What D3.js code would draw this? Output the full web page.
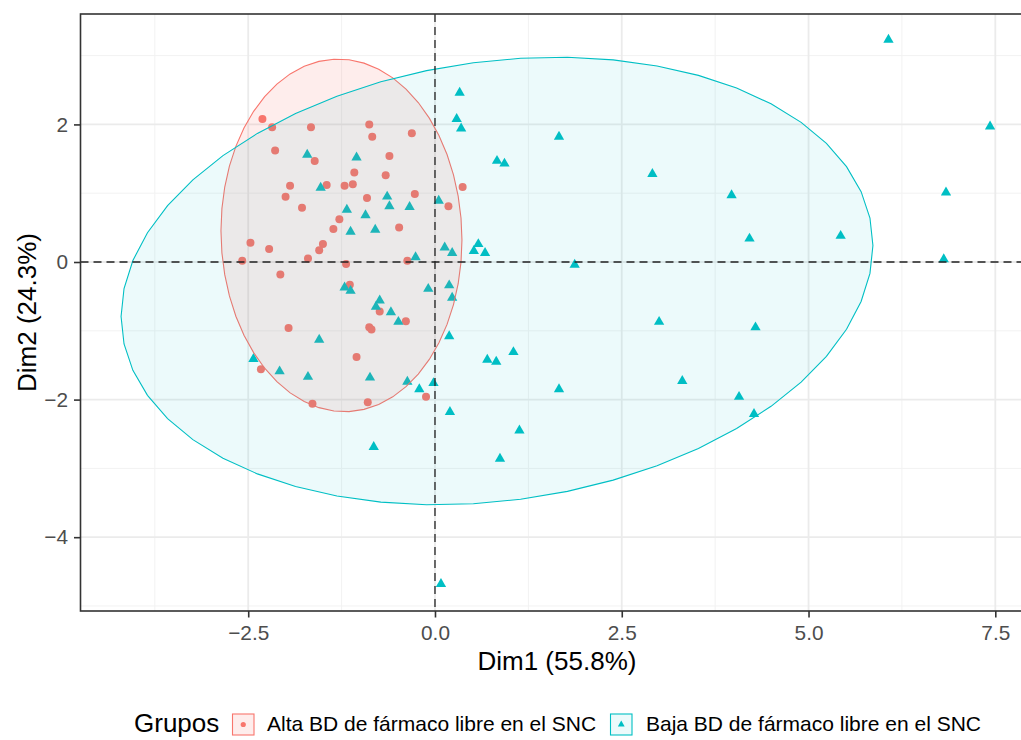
<!DOCTYPE html>
<html>
<head>
<meta charset="utf-8">
<script src="https://cdn.jsdelivr.net/npm/d3@7"></script>
<style>
  body { margin: 0; background: #fff; }
  svg { display: block; font-family: "Liberation Sans", Arial, sans-serif; }
</style>
</head>
<body>
<svg id="chart" width="1021" height="740"></svg>
<script>
// PCA individuals (Dim1, Dim2) by group
const groupNames = ["Alta BD de fármaco libre en el SNC", "Baja BD de fármaco libre en el SNC"];
const groupColors = ["#F8766D", "#00BFC4"];
const groupFillOpacity = [0.13, 0.075];

const altaDim1 = [-2.31, -2.18, -1.66, -0.88, -0.84, -0.31, -2.14, -1.61, -0.61, -1.08,
                  -0.66, -1.94, -1.45, -1.21, -1.10, 0.37, -2.00, -0.91, -0.27, -1.78,
                  0.18, -1.28, -1.36, -0.48, -2.47, -2.22, -1.50, -1.55, -2.58, -1.70,
                  -1.19, -0.37, -2.07, -1.14, -0.74, -0.39, -1.96, -0.88, -0.85, -1.05,
                  -2.33, -1.64, -0.90, -0.12];
const altaDim2 = [2.08, 1.96, 1.96, 2.00, 1.82, 1.87, 1.62, 1.47, 1.54, 1.30,
                  1.26, 1.11, 1.12, 1.11, 1.13, 1.09, 0.95, 0.93, 0.99, 0.79,
                  0.81, 0.62, 0.48, 0.50, 0.28, 0.19, 0.26, 0.17, 0.02, 0.05,
                  -0.03, 0.02, -0.18, -0.33, -0.72, -0.86, -0.96, -0.95, -0.98, -1.38,
                  -1.56, -2.06, -2.04, -1.96];

const bajaDim1 = [-1.71, -1.05, -1.53, -0.64, -0.61, -0.34, 0.05, -1.18, -0.93, -1.13,
                  -0.80, 0.13, 0.23, 0.58, 0.52, 0.67, -0.26, 0.33, 0.29, 0.35,
                  1.66, 0.83, 0.93, 1.87, -1.21, -1.13, -0.74, -0.79, -0.59, -0.49,
                  -0.09, 0.19, 0.23, 0.19, -1.55, -2.43, -2.08, -1.70, -0.87, -0.37,
                  -0.21, -0.02, 0.20, -0.82, 0.08, 0.70, 0.82, 1.05, 1.66, 1.13,
                  0.87, 6.07, 7.43, 2.91, 3.97, 6.84, 4.21, 5.43, 6.81, 3.00,
                  4.29, 3.31, 4.07, 4.27];
const bajaDim2 = [1.56, 1.52, 1.08, 0.95, 0.81, 0.80, 0.89, 0.76, 0.68, 0.44,
                  0.47, 0.21, 0.13, 0.26, 0.16, 0.13, 0.07, 2.46, 2.08, 1.94,
                  1.82, 1.47, 1.43, -0.04, -0.37, -0.42, -0.56, -0.65, -0.73, -0.87,
                  -0.39, -0.34, -0.52, -1.08, -1.13, -1.41, -1.59, -1.67, -1.68, -1.74,
                  -1.85, -1.76, -2.18, -2.69, -4.68, -1.42, -1.45, -1.31, -1.85, -2.45,
                  -2.86, 3.23, 1.97, 1.28, 0.97, 1.01, 0.34, 0.38, 0.04, -0.87,
                  -0.95, -1.73, -1.96, -2.21];

// 95% concentration ellipses per group: centre, half-extent on each axis, correlation
const ellipseCentre = [[-1.252, 0.387], [0.830, -0.276]];
const ellipseSpread = [[1.613, 2.563], [5.032, 3.253]];
const ellipseRho = [-0.0265, 0.1588];

const xTicks = [-2.5, 0, 2.5, 5, 7.5];
const yTicks = [-4, -2, 0, 2];
const xMinor = [-3.75, -1.25, 1.25, 3.75, 6.25];
const yMinor = [-5, -3, -1, 1, 3];
const xTitle = "Dim1 (55.8%)";
const yTitle = "Dim2 (24.3%)";
const legendTitle = "Grupos";

const svg = d3.select("#chart");
const panel = { left: 80.5, right: 1033.4, top: 14, bottom: 611 };

const x = d3.scaleLinear().domain([-4.745, 8.01]).range([panel.left, panel.right]);
const y = d3.scaleLinear().domain([-5.073, 3.605]).range([panel.bottom, panel.top]);

svg.append("rect").attr("width", 1021).attr("height", 740).attr("fill", "#fff");

const plot = svg.append("g");
plot.append("clipPath").attr("id", "clip")
  .append("rect").attr("x", panel.left).attr("y", panel.top)
  .attr("width", panel.right - panel.left).attr("height", panel.bottom - panel.top);

const inner = plot.append("g").attr("clip-path", "url(#clip)");

// grid
inner.selectAll(".xminor").data(xMinor).join("line")
  .attr("x1", d => x(d)).attr("x2", d => x(d)).attr("y1", panel.top).attr("y2", panel.bottom)
  .attr("stroke", "#F2F2F2").attr("stroke-width", 1);
inner.selectAll(".yminor").data(yMinor).join("line")
  .attr("y1", d => y(d)).attr("y2", d => y(d)).attr("x1", panel.left).attr("x2", panel.right)
  .attr("stroke", "#F2F2F2").attr("stroke-width", 1);
inner.selectAll(".xmajor").data(xTicks).join("line")
  .attr("x1", d => x(d)).attr("x2", d => x(d)).attr("y1", panel.top).attr("y2", panel.bottom)
  .attr("stroke", "#EBEBEB").attr("stroke-width", 1.8);
inner.selectAll(".ymajor").data(yTicks).join("line")
  .attr("y1", d => y(d)).attr("y2", d => y(d)).attr("x1", panel.left).attr("x2", panel.right)
  .attr("stroke", "#EBEBEB").attr("stroke-width", 1.8);

// points
const alta = altaDim1.map((d, i) => [d, altaDim2[i]]);
const baja = bajaDim1.map((d, i) => [d, bajaDim2[i]]);

inner.append("g").selectAll("circle").data(alta).join("circle")
  .attr("cx", d => x(d[0])).attr("cy", d => y(d[1])).attr("r", 4)
  .attr("fill", groupColors[0]);

const tri = d3.symbol().type(d3.symbolTriangle).size(46);
inner.append("g").selectAll("path").data(baja).join("path")
  .attr("d", tri)
  .attr("transform", d => `translate(${x(d[0])},${y(d[1])})`)
  .attr("fill", groupColors[1]);

// ellipses
function ellipsePoints(g) {
  const [cx, cy] = ellipseCentre[g];
  const [sx, sy] = ellipseSpread[g];
  const r = ellipseRho[g];
  const n = 51;
  return d3.range(n).map(k => {
    const t = 2 * Math.PI * k / (n - 1);
    return [cx + sx * Math.cos(t), cy + sy * (r * Math.cos(t) + Math.sqrt(1 - r * r) * Math.sin(t))];
  });
}
const line = d3.line().x(d => x(d[0])).y(d => y(d[1]));
[0, 1].forEach(g => {
  inner.append("path")
    .attr("d", line(ellipsePoints(g)) + "Z")
    .attr("fill", groupColors[g]).attr("fill-opacity", groupFillOpacity[g])
    .attr("stroke", groupColors[g]).attr("stroke-width", 1.1);
});

// reference lines
inner.append("line").attr("x1", x(0)).attr("x2", x(0)).attr("y1", panel.top).attr("y2", panel.bottom)
  .attr("stroke", "#222").attr("stroke-width", 1.3).attr("stroke-dasharray", "8,5");
inner.append("line").attr("y1", y(0)).attr("y2", y(0)).attr("x1", panel.left).attr("x2", panel.right)
  .attr("stroke", "#222").attr("stroke-width", 1.3).attr("stroke-dasharray", "8,5");

// panel border
plot.append("rect").attr("x", panel.left).attr("y", panel.top)
  .attr("width", panel.right - panel.left).attr("height", panel.bottom - panel.top)
  .attr("fill", "none").attr("stroke", "#333").attr("stroke-width", 1.6);

// axes
const xAxis = svg.append("g").attr("transform", `translate(0,${panel.bottom})`)
  .call(d3.axisBottom(x).tickValues(xTicks).tickFormat(d3.format(".1f")).tickSize(6.5).tickPadding(7.7));
const yAxis = svg.append("g").attr("transform", `translate(${panel.left},0)`)
  .call(d3.axisLeft(y).tickValues(yTicks).tickFormat(d3.format("d")).tickSize(6.5).tickPadding(6));
[xAxis, yAxis].forEach(a => {
  a.select(".domain").remove();
  a.selectAll(".tick line").attr("stroke", "#333").attr("stroke-width", 1.6);
  a.selectAll(".tick text").attr("fill", "#4D4D4D").style("font-size", "20.8px")
    .style("font-family", "'Liberation Sans', Arial, sans-serif");
});

svg.append("text").attr("x", (panel.left + panel.right) / 2).attr("y", 670)
  .attr("text-anchor", "middle").style("font-size", "26px").attr("fill", "#000").text(xTitle);
svg.append("text").attr("transform", `translate(36,${(panel.top + panel.bottom) / 2}) rotate(-90)`)
  .attr("text-anchor", "middle").style("font-size", "26px").attr("fill", "#000").text(yTitle);

// legend
const legend = svg.append("g");
legend.append("text").attr("x", 134).attr("y", 732).style("font-size", "26px").attr("fill", "#000").text(legendTitle);
const keyX = [232.5, 610.5];
const labelX = [267, 646];
groupNames.forEach((name, g) => {
  const k = legend.append("g").attr("transform", `translate(${keyX[g]},714)`);
  k.append("rect").attr("width", 21.5).attr("height", 21)
    .attr("fill", groupColors[g]).attr("fill-opacity", groupFillOpacity[g])
    .attr("stroke", groupColors[g]).attr("stroke-width", 1.1);
  if (g === 0) {
    k.append("circle").attr("cx", 10.75).attr("cy", 10.5).attr("r", 2.6).attr("fill", groupColors[g]);
  } else {
    k.append("path").attr("d", d3.symbol().type(d3.symbolTriangle).size(20))
      .attr("transform", "translate(10.75,10.5)").attr("fill", groupColors[g]);
  }
  legend.append("text").attr("x", labelX[g]).attr("y", 731).style("font-size", "21px")
    .attr("fill", "#000").text(name);
});
</script>
</body>
</html>
